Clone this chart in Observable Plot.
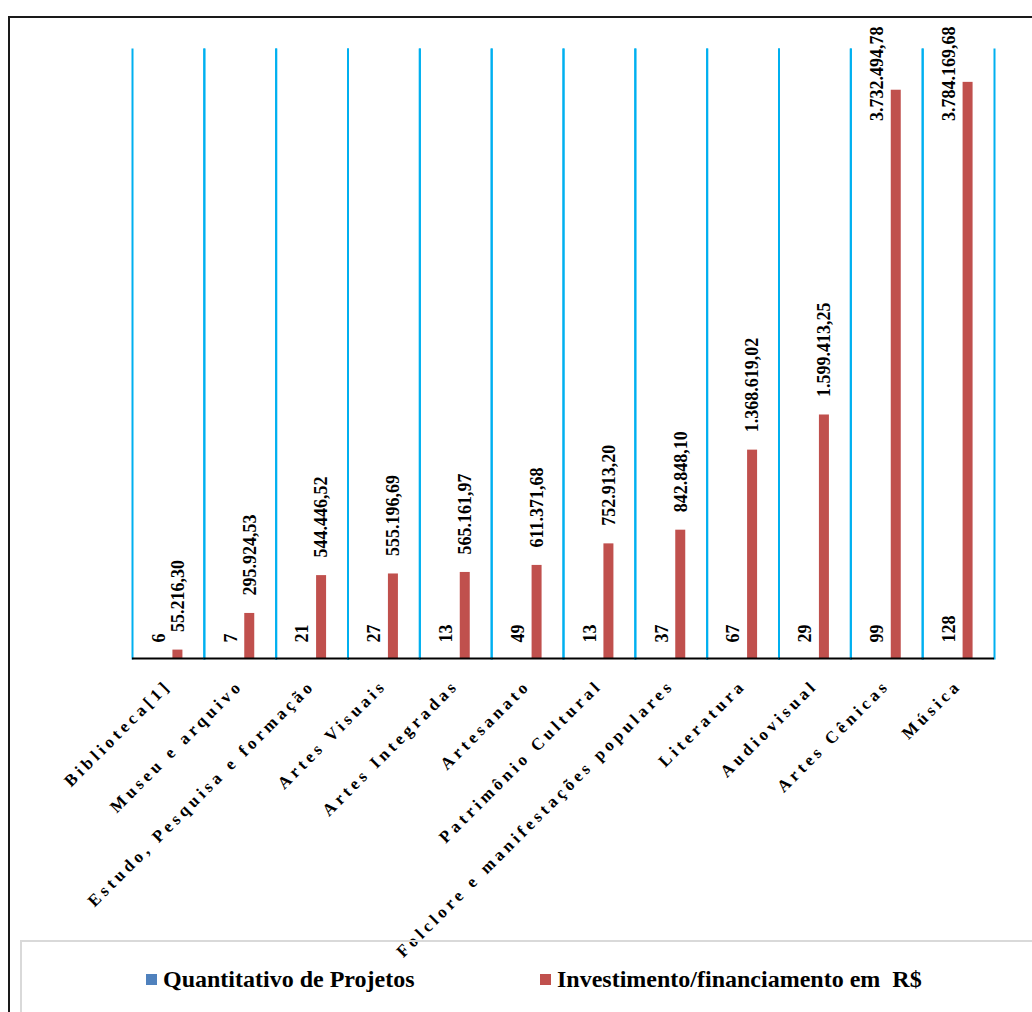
<!DOCTYPE html>
<html>
<head>
<meta charset="utf-8">
<script src="https://cdn.jsdelivr.net/npm/d3@7"></script>
<script src="https://cdn.jsdelivr.net/npm/@observablehq/plot@0.6"></script>
<style>
  html, body { margin: 0; padding: 0; background: #fff; }
  body { width: 1032px; height: 1012px; overflow: hidden; position: relative; font-family: "Liberation Serif", "Times New Roman", serif; }
  #chart { position: absolute; left: 0; top: 0; }
  #frame { position: absolute; left: 8px; top: 16px; width: 1200px; height: 1200px; border: 2px solid #1a1a1a; box-sizing: border-box; pointer-events: none; }
  #legend { position: absolute; left: 20px; top: 940px; width: 1200px; height: 200px; border: 2px solid #d9d9d9; box-sizing: border-box; }
  .item { position: absolute; top: 24px; display: flex; align-items: center; font-weight: bold; font-size: 24px; color: #000; white-space: pre; }
  .sw { width: 11px; height: 11px; margin-right: 6px; display: inline-block; }
  .catlab text { letter-spacing: 3.9px; font-size: 17px; font-weight: bold; }
</style>
</head>
<body>
<div id="chart"></div>
<div id="frame"></div>
<div id="legend"></div>
<script>
const categories = ["Biblioteca[1]", "Museu e arquivo", "Estudo, Pesquisa e formação", "Artes Visuais", "Artes Integradas", "Artesanato", "Patrimônio Cultural", "Folclore e manifestações populares", "Literatura", "Audiovisual", "Artes Cênicas", "Música"];
const projetos = [6, 7, 21, 27, 13, 49, 13, 37, 67, 29, 99, 128];
const investimento = [55216.30, 295924.53, 544446.52, 555196.69, 565161.97, 611371.68, 752913.20, 842848.10, 1368619.02, 1599413.25, 3732494.78, 3784169.68];
const series = ["Quantitativo de Projetos", "Investimento/financiamento em  R$"];
const colors = ["#4f81bd", "#c0504d"];

const fmtBR = d3.formatLocale({decimal: ",", thousands: ".", grouping: [3], currency: ["R$ ", ""]}).format(",.2f");

const rows = categories.flatMap((c, i) => [
  {cat: c, serie: series[0], value: projetos[i]},
  {cat: c, serie: series[1], value: investimento[i]}
]);
const countRows = rows.filter(d => d.serie === series[0]);
const invRows = rows.filter(d => d.serie === series[1] && d.value < 3.5e6);
const invTop = rows.filter(d => d.serie === series[1] && d.value >= 3.5e6);

const font = "'Liberation Serif', 'Times New Roman', serif";

const chart = Plot.plot({
  width: 1032,
  height: 940,
  marginLeft: 132,
  marginRight: 38,
  marginTop: 49,
  marginBottom: 282,
  style: {background: "transparent", overflow: "visible", fontFamily: font},
  fx: {domain: categories, padding: 0, round: false, label: null},
  x: {domain: series, axis: null, round: false, paddingInner: 0.474, paddingOuter: 1.127},
  y: {domain: [0, 4000000], axis: null},
  color: {domain: series, range: colors},
  marks: [
    Plot.frame({anchor: "left", stroke: "#00b0f0", strokeWidth: 2}),
    Plot.frame({anchor: "right", stroke: "#00b0f0", strokeWidth: 2}),
    Plot.barY(rows, {fx: "cat", x: "serie", y: "value", fill: "serie"}),
    Plot.ruleY([0], {stroke: "#000", strokeWidth: 2}),
    Plot.text(countRows, {fx: "cat", x: "serie", y: "value", text: d => String(d.value), rotate: -90, textAnchor: "start", dy: -16, fontSize: 18, fontWeight: "bold", fill: "#000"}),
    Plot.text(invRows, {fx: "cat", x: "serie", y: "value", text: d => fmtBR(d.value), rotate: -90, textAnchor: "start", dy: -18, fontSize: 18, fontWeight: "bold", fill: "#000"}),
    Plot.text(invTop, {fx: "cat", x: "serie", frameAnchor: "top", text: d => fmtBR(d.value), rotate: -90, textAnchor: "end", dy: -23, dx: -26, fontSize: 18, fontWeight: "bold", fill: "#000"}),
    Plot.axisFx({anchor: "bottom", tickRotate: -45, tickSize: 0, tickPadding: 24, fontSize: 17, fontWeight: "bold", fill: "#000", label: null, className: "catlab"})
  ]
});
document.getElementById("chart").appendChild(chart);

const legend = document.getElementById("legend");
const lefts = [124, 518];
series.forEach((s, i) => {
  const it = document.createElement("div");
  it.className = "item";
  it.style.left = lefts[i] + "px";
  const sw = document.createElement("span");
  sw.className = "sw";
  sw.style.background = colors[i];
  const tx = document.createElement("span");
  tx.textContent = s;
  it.appendChild(sw);
  it.appendChild(tx);
  legend.appendChild(it);
});
</script>
</body>
</html>
